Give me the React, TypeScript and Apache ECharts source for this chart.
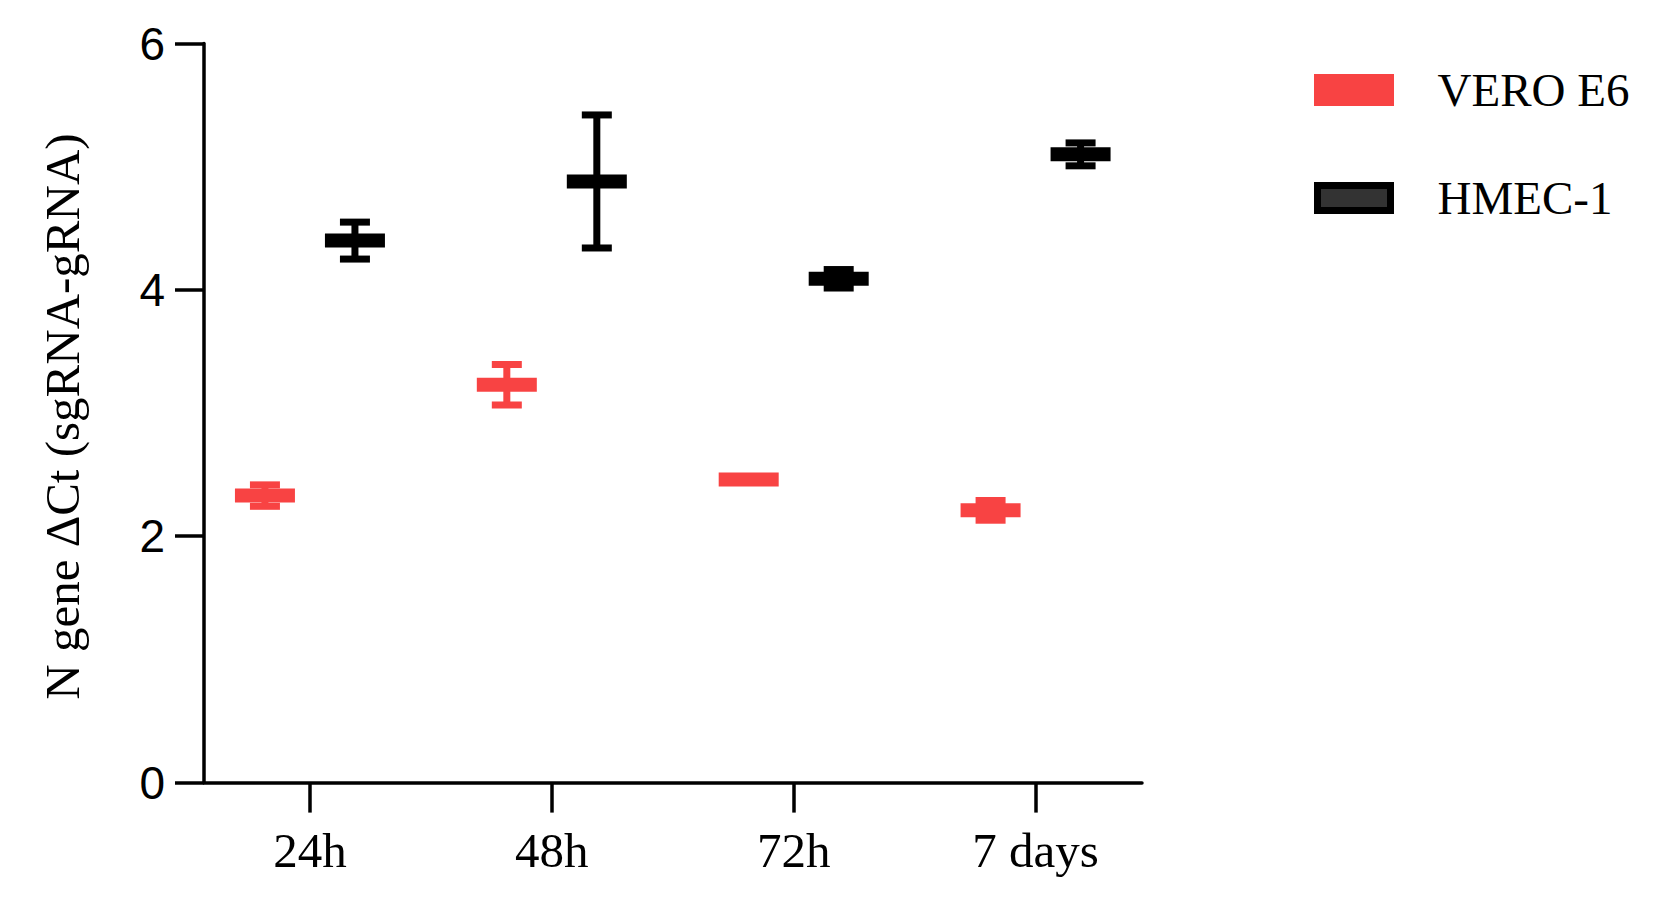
import React, { useEffect, useRef } from 'react';
import * as echarts from 'echarts';

const categories = ['24h', '48h', '72h', '7 days'];
const categoryPositions = [1, 2, 3, 4];
const veroMean = [2.33, 3.23, 2.46, 2.21];
const veroSd = [0.087, 0.165, 0.01, 0.08];
const hmecMean = [4.4, 4.88, 4.09, 5.1];
const hmecSd = [0.15, 0.54, 0.075, 0.093];
const seriesNames = ['VERO E6', 'HMEC-1'];

const RED = '#F84343';
const BLACK = '#000000';

function makeRender(color: string, offsetPx: number) {
  return (params: any, api: any) => {
    const x = api.value(0);
    const m = api.value(1);
    const sd = api.value(2);
    const c = api.coord([x, m]);
    const top = api.coord([x, m + sd]);
    const bot = api.coord([x, m - sd]);
    const cx = c[0] + offsetPx;
    return {
      type: 'group',
      children: [
        { type: 'rect', shape: { x: cx - 3.5, y: top[1], width: 7, height: bot[1] - top[1] }, style: { fill: color } },
        { type: 'rect', shape: { x: cx - 15, y: top[1] - 3.5, width: 30, height: 7 }, style: { fill: color } },
        { type: 'rect', shape: { x: cx - 15, y: bot[1] - 3.5, width: 30, height: 7 }, style: { fill: color } },
        { type: 'rect', shape: { x: cx - 30, y: c[1] - 7, width: 60, height: 14 }, style: { fill: color } },
      ],
    };
  };
}

export default function App() {
  const ref = useRef<HTMLDivElement>(null);
  useEffect(() => {
    if (!ref.current) return;
    const chart = echarts.init(ref.current, null, { renderer: 'svg' });
    const veroData = categoryPositions.map((p, i) => [p, veroMean[i], veroSd[i]]);
    const hmecData = categoryPositions.map((p, i) => [p, hmecMean[i], hmecSd[i]]);
    chart.setOption({
      animation: false,
      backgroundColor: '#ffffff',
      grid: { left: 204, right: 523, top: 43.5, bottom: 132.4, containLabel: false },
      legend: {
        orient: 'vertical',
        left: 1309,
        top: 56,
        padding: 5,
        itemWidth: 73,
        itemHeight: 25,
        itemGap: 50,
        icon: 'rect',
        textStyle: {
          fontFamily: 'Liberation Serif',
          fontSize: 47,
          color: '#000',
          lineHeight: 50,
          padding: [8, 0, 0, 42],
        },
        data: [
          { name: seriesNames[0], itemStyle: { color: RED, borderColor: RED, borderWidth: 7 } },
          { name: seriesNames[1], itemStyle: { color: '#333333', borderColor: BLACK, borderWidth: 7 } },
        ],
      },
      xAxis: {
        type: 'value',
        min: 0.562,
        max: 4.44,
        splitLine: { show: false },
        axisLine: { show: true, onZero: false, lineStyle: { color: '#000', width: 3.5 } },
        axisTick: { show: true, length: 30, customValues: categoryPositions, lineStyle: { color: '#000', width: 3.5 } },
        axisLabel: {
          show: true,
          customValues: categoryPositions,
          formatter: (v: number) => categories[Math.round(v) - 1] ?? '',
          fontFamily: 'Liberation Serif',
          fontSize: 49,
          color: '#000',
          margin: 43,
        },
      },
      yAxis: {
        type: 'value',
        min: 0,
        max: 6,
        interval: 2,
        name: 'N gene ΔCt (sgRNA-gRNA)',
        nameLocation: 'middle',
        nameGap: 117,
        nameTextStyle: { fontFamily: 'Liberation Serif', fontSize: 49, color: '#000', padding: [0, 7, 0, 0] },
        splitLine: { show: false },
        axisLine: { show: true, lineStyle: { color: '#000', width: 3.5 } },
        axisTick: { show: true, length: 29, lineStyle: { color: '#000', width: 3.5 } },
        axisLabel: { fontFamily: 'Liberation Sans', fontSize: 46, color: '#000', margin: 39 },
      },
      series: [
        {
          name: seriesNames[0],
          type: 'custom',
          itemStyle: { color: RED },
          renderItem: makeRender(RED, -45),
          encode: { x: 0, y: 1 },
          data: veroData,
        },
        {
          name: seriesNames[1],
          type: 'custom',
          itemStyle: { color: BLACK },
          renderItem: makeRender(BLACK, 45),
          encode: { x: 0, y: 1 },
          data: hmecData,
        },
      ],
    });
    return () => chart.dispose();
  }, []);
  return <div ref={ref} style={{ position: 'fixed', left: 0, top: 0, width: 1665, height: 915 }} />;
}
